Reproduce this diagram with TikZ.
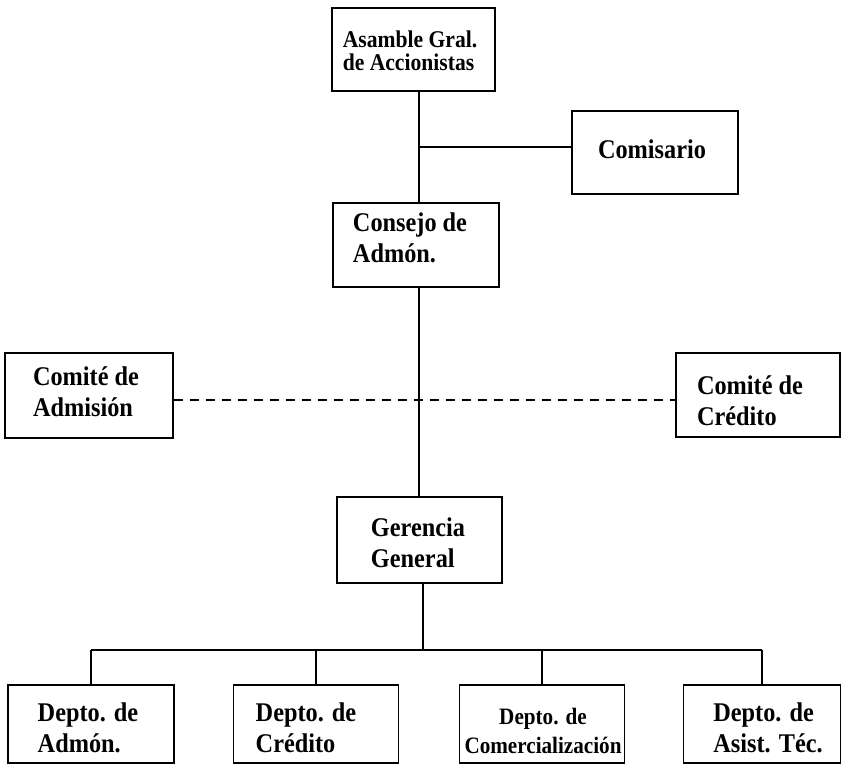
\documentclass[tikz,border=0pt]{standalone}
\usepackage{fontspec}
\setmainfont{Liberation Serif}[FakeStretch=0.9]
\begin{document}
\begin{tikzpicture}[x=1pt,y=1pt]
\tikzset{
  box/.style={draw=black, line width=1.7pt, inner sep=0pt},
  txt/.style={inner sep=0pt, align=left, font=\fontsize{27}{31}\selectfont\bfseries},
  conn/.style={line width=2pt},
  dashconn/.style={line width=1.2pt, dash pattern=on 9pt off 7pt},
}
\useasboundingbox (0,0) rectangle (842,-770);
% boxes
\node[box, minimum width=163pt, minimum height=83pt] (asam) at (413.5,-49.5) {};
\node[box, minimum width=166pt, minimum height=83pt] (comis) at (655,-152.5) {};
\node[box, minimum width=166pt, minimum height=84pt] (consejo) at (416,-245) {};
\node[box, minimum width=168pt, minimum height=85pt] (adm) at (89,-395.5) {};
\node[box, minimum width=164pt, minimum height=84pt] (cred) at (758,-395) {};
\node[box, minimum width=165pt, minimum height=86pt] (ger) at (419.5,-540) {};
\node[box, minimum width=166pt, minimum height=78pt] (d1) at (91,-724) {};
\node[box, minimum width=165pt, minimum height=78pt] (d2) at (316,-724) {};
\node[box, minimum width=165pt, minimum height=78pt] (d3) at (542,-724) {};
\node[box, minimum width=157pt, minimum height=78pt] (d4) at (762,-724) {};
% texts
\node[txt, font=\fontsize{24}{23}\selectfont\bfseries] (asamT) at (410,-51) {Asamble Gral.\\de Accionistas};
\node[txt] (comisT) at (652,-149) {Comisario};
\node[txt] (consT) at (410,-238) {Consejo de\\Admón.};
\node[txt] (admT) at (86,-392) {Comité de\\Admisión};
\node[txt] (credT) at (750,-401) {Comité de\\Crédito};
\node[txt] (gerT) at (418,-543) {Gerencia\\General};
\node[txt] (d1T) at (88,-728) {Depto. de\\Admón.};
\node[txt] (d2T) at (306,-728) {Depto. de\\Crédito};
\node[txt, align=center, font=\fontsize{23.5}{29}\selectfont\bfseries] (d3T) at (543,-731) {Depto. de\\Comercialización};
\node[txt] (d4T) at (768,-728) {Depto. de\\Asist. Téc.};
% connectors
\coordinate (tx) at (419,0);
\coordinate (jc) at (419,-147);
\coordinate (dl) at (0,-400);
\coordinate (bx) at (423,0);
\coordinate (bus) at (0,-650);
\draw[conn] (asam.south -| tx) -- (consejo.north -| tx);
\draw[conn] (jc) -- (jc -| comis.west);
\draw[conn] (consejo.south -| tx) -- (ger.north -| tx);
\draw[dashconn] (dl -| adm.east) -- (dl -| cred.west);
\draw[conn] (ger.south -| bx) -- (bus -| bx);
\draw[conn] (bus -| d1.north) -- (bus -| d4.north);
\draw[conn] (bus -| d1.north) -- (d1.north);
\draw[conn] (bus -| d2.north) -- (d2.north);
\draw[conn] (bus -| d3.north) -- (d3.north);
\draw[conn] (bus -| d4.north) -- (d4.north);
\end{tikzpicture}
\end{document}
